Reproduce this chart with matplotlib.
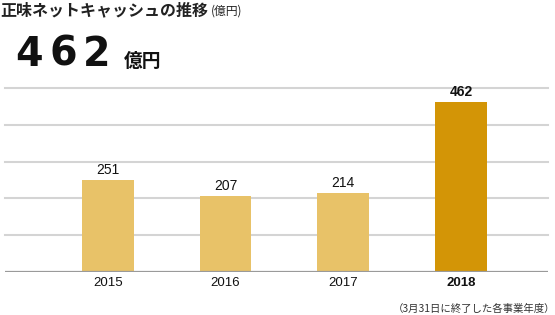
import matplotlib
matplotlib.use("Agg")
import matplotlib.pyplot as plt

# Data
years = ["2015", "2016", "2017", "2018"]
values = [251, 207, 214, 462]
bar_colors = ["#E8C268", "#E8C268", "#E8C268", "#D39506"]
grid_values = [100, 200, 300, 400, 500]
headline = "462"

W, H = 555, 315
fig = plt.figure(figsize=(W / 100, H / 100), dpi=100)

def fx(px):
    return px / W

def fy(py):
    return 1 - py / H

jp = ["Noto Sans CJK JP", "DejaVu Sans"]
num = ["Liberation Sans", "Noto Sans CJK JP"]

# Axes area: baseline at y=272, 500 gridline at y=88
ax = fig.add_axes([fx(5), fy(272), fx(543), (272 - 88) / H])
ax.set_ylim(0, 500)
ax.set_xlim(-0.875, 3.74)
ax.axis("off")

for g in grid_values:
    ax.axhline(g, color="#D4D4D4", lw=1.5, clip_on=False, zorder=0)

x = range(len(years))
ax.bar(x, values, width=0.44, color=bar_colors, zorder=2)
ax.axhline(0, color="#9A9A9A", lw=1.6, zorder=3)

for i, (yr, v) in enumerate(zip(years, values)):
    bold = i == len(years) - 1
    ax.text(i, v + 8, str(v), ha="center", va="bottom", fontsize=10,
            family=num, fontweight="bold" if bold else "normal", color="#111111")
    ax.text(i, -30, yr, ha="center", va="center", fontsize=9.5,
            family=num, fontweight="bold" if bold else "normal", color="#111111")

# Titles
fig.text(fx(0), fy(10), "正味ネットキャッシュの推移", family=jp, fontsize=11.5,
         fontweight="bold", ha="left", va="center", color="#222222")
fig.text(fx(211), fy(11), "(億円)", family=jp, fontsize=8.5,
         ha="left", va="center", color="#222222")

# big headline figure, digits spread wide like the original display font
for k, ch in enumerate(headline):
    fig.text(fx(29 + 34 * k), fy(66), ch, family=["DejaVu Sans"], fontsize=28.5,
             fontweight="heavy", ha="center", va="baseline", color="#111111")
fig.text(fx(124), fy(67), "億円", family=jp, fontsize=13.5,
         fontweight="bold", ha="left", va="baseline", color="#111111")

# Footnote
fig.text(fx(555), fy(309), "（3月31日に終了した各事業年度）", family=jp, fontsize=7.5,
         ha="right", va="center", color="#333333")

fig.savefig("out.png", dpi=100)
